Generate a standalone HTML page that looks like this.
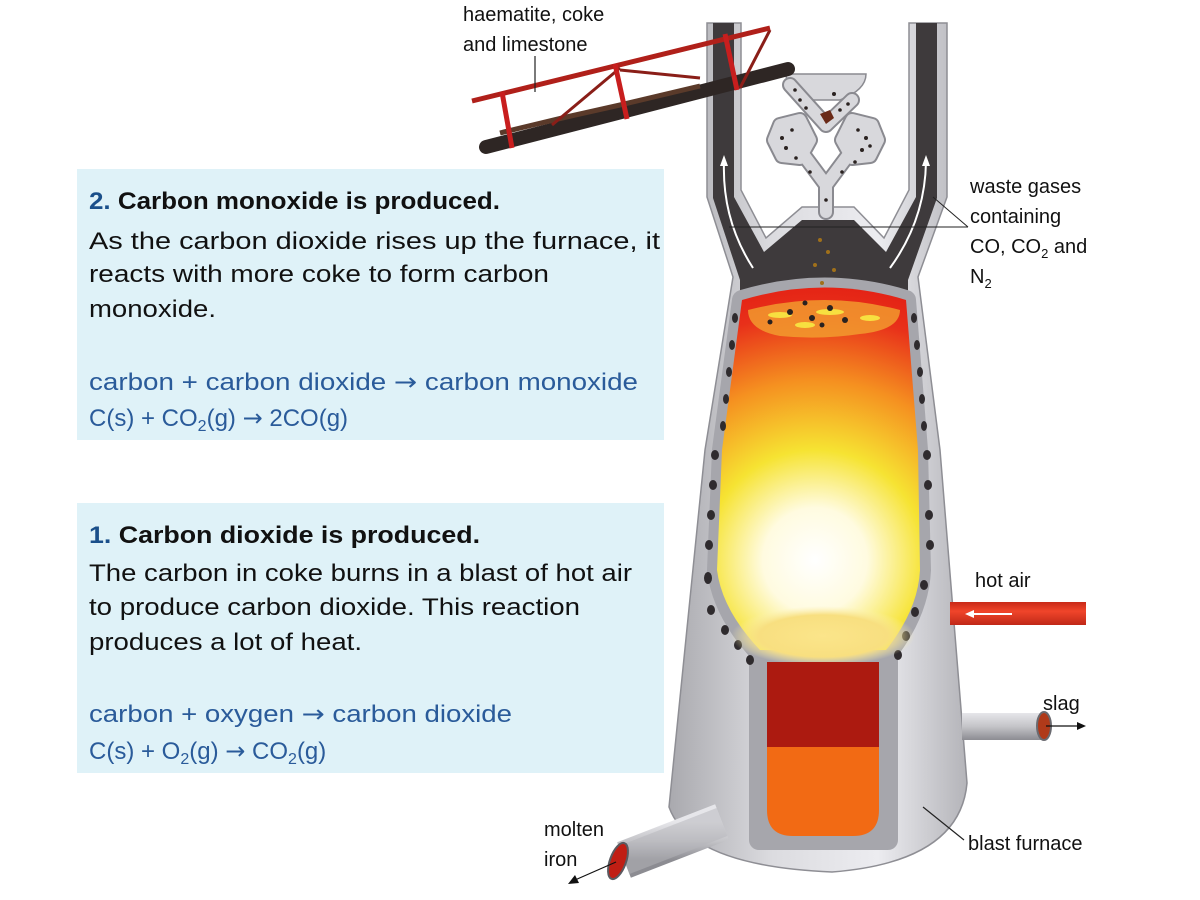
<!DOCTYPE html>
<html><head><meta charset="utf-8"><style>
html,body{margin:0;padding:0;background:#fff;}
svg{display:block;}
text{font-family:"Liberation Sans",sans-serif;}
.ar{font-family:"DejaVu Sans",sans-serif;}
</style></head><body>
<svg width="1200" height="900" viewBox="0 0 1200 900" xmlns="http://www.w3.org/2000/svg">
<defs>
<linearGradient id="shell" x1="0" x2="1" y1="0" y2="0">
<stop offset="0" stop-color="#a9a9ae"/><stop offset="0.35" stop-color="#dcdce0"/><stop offset="0.7" stop-color="#ececf0"/><stop offset="1" stop-color="#b4b4b9"/>
</linearGradient>
<radialGradient id="lava" cx="815" cy="560" r="290" gradientUnits="userSpaceOnUse">
<stop offset="0" stop-color="#ffffff"/><stop offset="0.18" stop-color="#fffbe0"/><stop offset="0.38" stop-color="#f6e332"/><stop offset="0.62" stop-color="#f59020"/><stop offset="0.85" stop-color="#e8301a"/><stop offset="1" stop-color="#e21c12"/>
</radialGradient>
<radialGradient id="slagtop" cx="0.5" cy="0.5" r="0.5">
<stop offset="0" stop-color="#fbe58a"/><stop offset="0.7" stop-color="#f8df80"/><stop offset="1" stop-color="#fbf0b0" stop-opacity="0"/>
</radialGradient>
<linearGradient id="pipe" x1="0" x2="0" y1="0" y2="1">
<stop offset="0" stop-color="#e6e6ea"/><stop offset="0.5" stop-color="#c4c4c8"/><stop offset="1" stop-color="#8c8c92"/>
</linearGradient>
<linearGradient id="hot" x1="0" x2="0" y1="0" y2="1">
<stop offset="0" stop-color="#c82a18"/><stop offset="0.4" stop-color="#f0452a"/><stop offset="1" stop-color="#c02818"/>
</linearGradient>
</defs>

<!-- text boxes -->
<rect x="77" y="169" width="587" height="271" fill="#dff2f8"/>
<rect x="77" y="503" width="587" height="270" fill="#dff2f8"/>

<g font-size="24" fill="#111">
<text x="89" y="209" font-weight="bold" textLength="411" lengthAdjust="spacingAndGlyphs"><tspan fill="#1a4f8a">2.</tspan> Carbon monoxide is produced.</text>
<text x="89" y="249" textLength="571" lengthAdjust="spacingAndGlyphs">As the carbon dioxide rises up the furnace, it</text>
<text x="89" y="282" textLength="460" lengthAdjust="spacingAndGlyphs">reacts with more coke to form carbon</text>
<text x="89" y="317" textLength="127" lengthAdjust="spacingAndGlyphs">monoxide.</text>
<text x="89" y="390" fill="#2a5b9a" textLength="549" lengthAdjust="spacingAndGlyphs">carbon + carbon dioxide <tspan class="ar">→</tspan> carbon monoxide</text>
<text x="89" y="426" fill="#2a5b9a">C(s) + CO<tspan font-size="16" dy="5">2</tspan><tspan dy="-5">(g) </tspan><tspan class="ar">→</tspan> 2CO(g)</text>

<text x="89" y="543" font-weight="bold" textLength="391" lengthAdjust="spacingAndGlyphs"><tspan fill="#1a4f8a">1.</tspan> Carbon dioxide is produced.</text>
<text x="89" y="581" textLength="543" lengthAdjust="spacingAndGlyphs">The carbon in coke burns in a blast of hot air</text>
<text x="89" y="615" textLength="491" lengthAdjust="spacingAndGlyphs">to produce carbon dioxide. This reaction</text>
<text x="89" y="650" textLength="273" lengthAdjust="spacingAndGlyphs">produces a lot of heat.</text>
<text x="89" y="722" fill="#2a5b9a" textLength="423" lengthAdjust="spacingAndGlyphs">carbon + oxygen <tspan class="ar">→</tspan> carbon dioxide</text>
<text x="89" y="759" fill="#2a5b9a">C(s) + O<tspan font-size="16" dy="5">2</tspan><tspan dy="-5">(g) </tspan><tspan class="ar">→</tspan> CO<tspan font-size="16" dy="5">2</tspan><tspan dy="-5">(g)</tspan></text>
</g>

<!-- furnace shell -->
<path d="M707,23 L741,23 L741,190 L766,238 L802,207 L854,207 L884,238 L909,190 L909,23 L947,23 L947,197 L918,277 L940,450 L967,783 Q960,862 832,872 Q690,866 669,807 L705,450 L733,277 L707,197 Z" fill="url(#shell)" stroke="#8e8e94" stroke-width="1.5"/>
<!-- dark interior -->
<path d="M713,23 L734,23 L734,197 L764,252 L802,220 L854,220 L886,252 L916,197 L916,23 L937,23 L937,198 L908,280 L908,305 L740,305 L740,280 L713,198 Z" fill="#3e3a3c"/>
<!-- lining -->
<path d="M742,300 Q825,275 906,300 L918,450 L921,570 Q919,612 888,652 L888,840 L759,840 L759,652 Q722,612 717,570 L722,450 Z" fill="#a6a6ac" stroke="#a6a6ac" stroke-width="20" stroke-linejoin="round"/>
<!-- lava -->
<path d="M742,300 Q825,275 906,300 L918,450 L920,570 Q918,610 886,650 L760,650 Q722,610 717,570 L722,450 Z" fill="url(#lava)"/>
<path d="M748,310 Q825,290 900,310 Q900,330 860,334 Q820,340 780,336 Q748,330 748,310 Z" fill="#f2a030" opacity="0.8"/>
<g fill="#f7e040">
<ellipse cx="780" cy="315" rx="12" ry="3"/><ellipse cx="830" cy="312" rx="14" ry="3"/><ellipse cx="870" cy="318" rx="10" ry="3"/><ellipse cx="805" cy="325" rx="10" ry="3"/>
</g>
<g fill="#2a2220">
<circle cx="790" cy="312" r="3"/><circle cx="812" cy="318" r="3"/><circle cx="830" cy="308" r="3"/><circle cx="805" cy="303" r="2.5"/><circle cx="845" cy="320" r="3"/><circle cx="770" cy="322" r="2.5"/><circle cx="822" cy="325" r="2.5"/>
</g>
<!-- falling ore -->
<g fill="#a0701a"><circle cx="820" cy="240" r="2"/><circle cx="828" cy="252" r="2"/><circle cx="815" cy="265" r="2"/><circle cx="834" cy="270" r="2"/><circle cx="822" cy="283" r="2"/></g>
<!-- tuyere dots -->
<g fill="#2f2b2e">
<ellipse cx="735" cy="318" rx="3" ry="5"/><ellipse cx="732" cy="345" rx="3" ry="5"/><ellipse cx="729" cy="372" rx="3" ry="5"/><ellipse cx="726" cy="399" rx="3" ry="5"/><ellipse cx="723" cy="426" rx="3" ry="5"/><ellipse cx="715" cy="455" rx="4" ry="5"/><ellipse cx="713" cy="485" rx="4" ry="5"/><ellipse cx="711" cy="515" rx="4" ry="5"/><ellipse cx="709" cy="545" rx="4" ry="5"/><ellipse cx="708" cy="578" rx="4" ry="6"/><ellipse cx="711" cy="610" rx="4" ry="5"/><ellipse cx="725" cy="630" rx="4" ry="5"/><ellipse cx="738" cy="645" rx="4" ry="5"/><ellipse cx="750" cy="660" rx="4" ry="5"/>
<ellipse cx="914" cy="318" rx="3" ry="5"/><ellipse cx="917" cy="345" rx="3" ry="5"/><ellipse cx="920" cy="372" rx="3" ry="5"/><ellipse cx="922" cy="399" rx="3" ry="5"/><ellipse cx="924" cy="426" rx="3" ry="5"/><ellipse cx="927" cy="455" rx="4" ry="5"/><ellipse cx="928" cy="485" rx="4" ry="5"/><ellipse cx="929" cy="515" rx="4" ry="5"/><ellipse cx="930" cy="545" rx="4" ry="5"/><ellipse cx="924" cy="585" rx="4" ry="5"/><ellipse cx="915" cy="612" rx="4" ry="5"/><ellipse cx="906" cy="636" rx="4" ry="5"/><ellipse cx="898" cy="655" rx="4" ry="5"/>
</g>
<!-- hearth -->
<ellipse cx="823" cy="636" rx="92" ry="30" fill="url(#slagtop)"/>
<rect x="767" y="662" width="112" height="86" fill="#ac1a10"/>
<path d="M767,747 L879,747 L879,810 Q879,836 853,836 L793,836 Q767,836 767,810 Z" fill="#f26a14"/>

<!-- white gas arrows -->
<g fill="none" stroke="#fff" stroke-width="2">
<path d="M753,268 Q722,220 724,162"/><path d="M890,268 Q925,220 926,162"/>
</g>
<path d="M724,155 L720,166 L728,166 Z M926,155 L922,166 L930,166 Z" fill="#fff"/>

<!-- hopper -->
<path d="M786,74 L866,74 Q866,90 840,100 L812,100 Q786,90 786,74 Z" fill="#d8d8dc" stroke="#8a8a90" stroke-width="1.5"/>
<g fill="none" stroke-linecap="round" stroke-linejoin="round">
<g stroke="#8a8a90" stroke-width="16">
<path d="M790,85 L826,125 L852,100"/><path d="M800,150 L826,185 L852,150"/><path d="M826,185 L826,212"/>
<polygon points="780,125 800,120 810,140 800,158 782,156 774,140"/><polygon points="872,125 852,120 842,140 852,158 870,156 878,140"/>
</g>
<g stroke="#d8d8dc" stroke-width="12">
<path d="M790,85 L826,125 L852,100"/><path d="M800,150 L826,185 L852,150"/><path d="M826,185 L826,212"/>
<polygon points="780,125 800,120 810,140 800,158 782,156 774,140" fill="#d8d8dc"/><polygon points="872,125 852,120 842,140 852,158 870,156 878,140" fill="#d8d8dc"/>
</g>
</g>
<g fill="#2a2220">
<circle cx="795" cy="90" r="1.8"/><circle cx="800" cy="100" r="1.8"/><circle cx="806" cy="108" r="1.8"/><circle cx="782" cy="138" r="2"/><circle cx="786" cy="148" r="2"/><circle cx="796" cy="158" r="1.8"/><circle cx="866" cy="138" r="2"/><circle cx="862" cy="150" r="2"/><circle cx="870" cy="146" r="1.8"/><circle cx="855" cy="162" r="1.8"/><circle cx="810" cy="172" r="1.8"/><circle cx="842" cy="172" r="1.8"/><circle cx="826" cy="200" r="1.8"/><circle cx="840" cy="110" r="1.8"/><circle cx="848" cy="104" r="1.8"/><circle cx="834" cy="94" r="2"/><circle cx="792" cy="130" r="1.8"/><circle cx="858" cy="130" r="1.8"/>
</g>
<path d="M820,114 L830,110 L834,118 L826,124 Z" fill="#6a2a18"/>

<!-- conveyor -->
<line x1="486" y1="147" x2="788" y2="69" stroke="#2e2624" stroke-width="14" stroke-linecap="round"/>
<path d="M500,133 Q560,118 620,105 L700,86" stroke="#5a3a2a" stroke-width="5" fill="none"/>
<g stroke="#8a1e18" stroke-width="3" fill="none">
<line x1="552" y1="125" x2="620" y2="68"/><line x1="620" y1="70" x2="700" y2="78"/><line x1="740" y1="88" x2="770" y2="30"/>
</g>
<line x1="472" y1="101" x2="770" y2="28" stroke="#b0201a" stroke-width="5"/>
<g stroke="#c81e1e" stroke-width="5">
<line x1="502" y1="92" x2="512" y2="148"/><line x1="615" y1="64" x2="627" y2="119"/><line x1="725" y1="34" x2="737" y2="90"/>
</g>
<line x1="535" y1="56" x2="535" y2="92" stroke="#222" stroke-width="1.2"/>

<!-- hot air pipe -->
<rect x="950" y="602" width="136" height="23" fill="url(#hot)"/>
<line x1="1012" y1="614" x2="972" y2="614" stroke="#fff" stroke-width="2"/>
<path d="M965,614 L974,610 L974,618 Z" fill="#fff"/>

<!-- slag pipe -->
<rect x="962" y="713" width="82" height="27" fill="url(#pipe)"/>
<ellipse cx="1044" cy="726" rx="7" ry="14" fill="#b03a1a" stroke="#6a6a70" stroke-width="2"/>
<line x1="1046" y1="726" x2="1080" y2="726" stroke="#111" stroke-width="1.2"/>
<path d="M1086,726 L1077,722 L1077,730 Z" fill="#111"/>

<!-- molten iron pipe -->
<line x1="722" y1="822" x2="624" y2="860" stroke="url(#pipe)" stroke-width="38"/>
<line x1="722" y1="822" x2="624" y2="860" stroke="#b6b6bb" stroke-width="30" opacity="0.5"/>
<ellipse cx="618" cy="861" rx="8" ry="19" transform="rotate(20 618 861)" fill="#c01e14" stroke="#5a5a60" stroke-width="2"/>
<line x1="616" y1="862" x2="575" y2="880" stroke="#111" stroke-width="1.2"/>
<path d="M568,884 L575,875 L579,883 Z" fill="#111"/>

<!-- leader lines -->
<line x1="729" y1="227" x2="968" y2="227" stroke="#222" stroke-width="1"/>
<line x1="968" y1="227" x2="933" y2="197" stroke="#222" stroke-width="1"/>
<line x1="923" y1="807" x2="964" y2="840" stroke="#222" stroke-width="1.2"/>

<!-- labels -->
<g font-size="20" fill="#111">
<text x="463" y="21">haematite, coke</text>
<text x="463" y="51">and limestone</text>
<text x="970" y="193">waste gases</text>
<text x="970" y="223">containing</text>
<text x="970" y="253">CO, CO<tspan font-size="13" dy="5">2</tspan><tspan dy="-5"> and</tspan></text>
<text x="970" y="283">N<tspan font-size="13" dy="5">2</tspan></text>
<text x="975" y="587">hot air</text>
<text x="1043" y="710">slag</text>
<text x="544" y="836">molten</text>
<text x="544" y="866">iron</text>
<text x="968" y="850">blast furnace</text>
</g>
</svg>
</body></html>
